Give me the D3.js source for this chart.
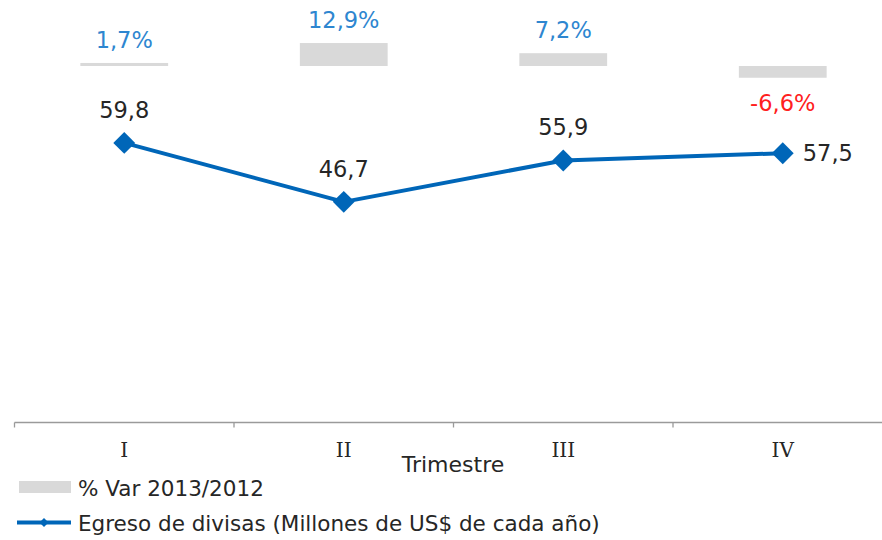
<!DOCTYPE html>
<html lang="es">
<head>
	<meta charset="UTF-8">
	<title>Egreso de divisas</title>
	<style>
		* { margin: 0; padding: 0; }
		body { background: #fff; }
		svg { display: block; }
	</style>
</head>
<body>
	<script src="https://cdn.jsdelivr.net/npm/d3@7/dist/d3.min.js"></script>
	<script>
		var trimestres = ['I', 'II', 'III', 'IV'];
		var egreso = [59.8, 46.7, 55.9, 57.5];
		var variacion = [1.7, 12.9, 7.2, -6.6];
		var etiquetasVar = ['1,7%', '12,9%', '7,2%', '-6,6%'];
		var etiquetasEgreso = ['59,8', '46,7', '55,9', '57,5'];

		var width = 882, height = 540;
		var sans = 'Verdana, "DejaVu Sans", sans-serif';

		var svg = d3.select('body').append('svg').attr('width', width).attr('height', height);

		// escala x: bandas de las categorias
		var xScale = d3.scaleBand().domain(trimestres).range([14.5, 892.5]);
		var xCenter = function (d) { return xScale(d) + xScale.bandwidth() / 2; };

		// eje del egreso (linea)
		var yScale = d3.scaleLinear().domain([0, 60]).range([412, 142]);
		// eje secundario de la variacion (barras)
		var yVar = d3.scaleLinear().domain([0, 10]).range([66, 48.2]);

		// eje x
		var axisY = 422.5;
		var xAxis = svg.append('g').attr('transform', 'translate(0,' + axisY + ')');
		xAxis.append('line').attr('x1', 14.5).attr('x2', width).attr('stroke', '#9a9a9a').attr('stroke-width', 1.3);
		xAxis.selectAll('.tick')
			.data(trimestres)
			.enter()
			.append('line')
			.attr('x1', function (d) { return xScale(d); })
			.attr('x2', function (d) { return xScale(d); })
			.attr('y1', 0).attr('y2', 5)
			.attr('stroke', '#9a9a9a').attr('stroke-width', 1.3);
		xAxis.selectAll('.cat')
			.data(trimestres)
			.enter()
			.append('text')
			.attr('x', xCenter)
			.attr('y', 34.5)
			.attr('text-anchor', 'middle')
			.style('font-family', '"DejaVu Serif", serif')
			.style('font-size', '20px')
			.style('fill', '#262626')
			.text(function (d) { return d; });

		svg.append('text')
			.attr('x', 453).attr('y', 472)
			.attr('text-anchor', 'middle')
			.style('font-family', sans).style('font-size', '22px').style('fill', '#262626')
			.text('Trimestre');

		// barras de variacion
		var barW = xScale.bandwidth() * 0.4;
		svg.selectAll('.bar')
			.data(variacion)
			.enter()
			.append('rect')
			.attr('x', function (d, i) { return xCenter(trimestres[i]) - barW / 2; })
			.attr('y', function (d) { return Math.min(yVar(d), yVar(0)); })
			.attr('width', barW)
			.attr('height', function (d) { return Math.abs(yVar(d) - yVar(0)); })
			.attr('fill', '#d9d9d9');

		svg.selectAll('.bar-text')
			.data(variacion)
			.enter()
			.append('text')
			.attr('x', function (d, i) { return xCenter(trimestres[i]); })
			.attr('y', function (d) { return d >= 0 ? yVar(d) - 15 : yVar(d) + 33; })
			.attr('text-anchor', 'middle')
			.style('font-family', sans).style('font-size', '22.5px')
			.style('fill', function (d) { return d >= 0 ? '#2e86d0' : '#ff2020'; })
			.text(function (d, i) { return etiquetasVar[i]; });

		// linea de egreso
		var line = d3.line()
			.x(function (d, i) { return xCenter(trimestres[i]); })
			.y(function (d) { return yScale(d); });

		svg.append('path')
			.datum(egreso)
			.attr('d', line)
			.attr('fill', 'none')
			.attr('stroke', '#0066b8')
			.attr('stroke-width', 4)
			.attr('stroke-linejoin', 'round');

		var diamond = d3.symbol().type(d3.symbolSquare).size(240);
		svg.selectAll('.pt')
			.data(egreso)
			.enter()
			.append('path')
			.attr('d', diamond)
			.attr('transform', function (d, i) { return 'translate(' + xCenter(trimestres[i]) + ',' + yScale(d) + ') rotate(45)'; })
			.attr('fill', '#0066b8');

		svg.selectAll('.pt-text')
			.data(egreso)
			.enter()
			.append('text')
			.attr('x', function (d, i) { return i === 3 ? xCenter(trimestres[i]) + 20 : xCenter(trimestres[i]); })
			.attr('y', function (d, i) { return i === 3 ? yScale(d) + 8 : yScale(d) - 25; })
			.attr('text-anchor', function (d, i) { return i === 3 ? 'start' : 'middle'; })
			.style('font-family', sans).style('font-size', '22.5px').style('fill', '#262626')
			.text(function (d, i) { return etiquetasEgreso[i]; });

		// leyenda
		var legend = svg.append('g');
		legend.append('rect').attr('x', 19).attr('y', 481).attr('width', 52).attr('height', 12).attr('fill', '#d9d9d9');
		legend.append('text').attr('x', 78).attr('y', 495.5)
			.style('font-family', sans).style('font-size', '21.5px').style('fill', '#262626')
			.text('% Var 2013/2012');
		legend.append('line').attr('x1', 17).attr('x2', 71).attr('y1', 522.5).attr('y2', 522.5)
			.attr('stroke', '#0066b8').attr('stroke-width', 4);
		legend.append('path').attr('d', d3.symbol().type(d3.symbolSquare).size(40))
			.attr('transform', 'translate(44,522.5) rotate(45)').attr('fill', '#0066b8');
		legend.append('text').attr('x', 78).attr('y', 530.5)
			.style('font-family', sans).style('font-size', '21.5px').style('fill', '#262626')
			.text('Egreso de divisas (Millones de US$ de cada año)');
	</script>
</body>
</html>
